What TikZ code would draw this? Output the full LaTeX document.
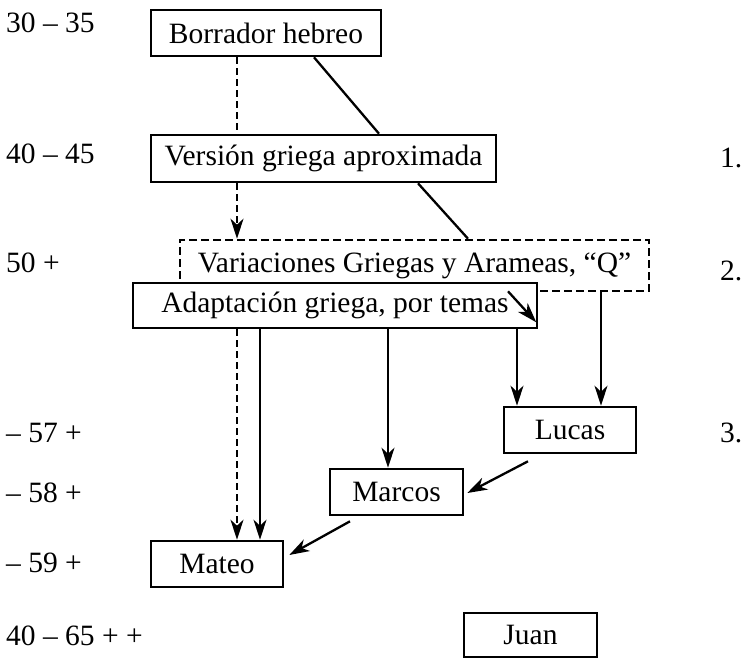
\documentclass[tikz,border=0pt]{standalone}
\usepackage{fontspec}
\setmainfont{Liberation Serif}
\usepackage{tikz}
\usetikzlibrary{positioning,arrows.meta}

\begin{document}
\begin{tikzpicture}[
  x=1pt,y=-1pt,
  every node/.style={font=\fontsize{29.5}{34}\selectfont},
  caja/.style={rectangle,draw=black,fill=white,line width=2.6pt,inner sep=0pt,align=center},
  cajapunt/.style={caja,dash pattern=on 8pt off 4pt},
  fecha/.style={anchor=base west,inner sep=0pt},
  linea/.style={line width=2.3pt,draw=black},
  lineapunt/.style={linea,dash pattern=on 7pt off 4pt},
  arr/.style={-{Stealth[length=20pt,width=13pt,inset=6pt]},linea},
  arrpunt/.style={-{Stealth[length=20pt,width=13pt,inset=6pt]},lineapunt},
]
\useasboundingbox (0,0) rectangle (742,659);

% Fechas a la izquierda
\node[fecha] (f1) at (6,32) {30 -- 35};
\node[fecha] (f2) at (6,163) {40 -- 45};
\node[fecha] (f3) at (6,272) {50 +};
\node[fecha] (f4) at (6,442) {-- 57 +};
\node[fecha] (f5) at (6,502) {-- 58 +};
\node[fecha] (f6) at (6,572) {-- 59 +};
\node[fecha] (f7) at (6,645) {40 -- 65 + +};

% Numeros a la derecha
\node[fecha] (n1) at (720,167) {1.};
\node[fecha] (n2) at (720,280) {2.};
\node[fecha] (n3) at (720,442) {3.};

% Fuentes
\node[caja,minimum width=230pt,minimum height=46pt] (bor) at (266,33) {Borrador hebreo};
\node[caja,minimum width=345pt,minimum height=47pt] (ver) at (323.5,158.5) {Versión griega aproximada};
\node[cajapunt,minimum width=469pt,minimum height=51pt] (var) at (414.5,265.5) {Variaciones Griegas y Arameas, ``Q''};
\node[caja,minimum width=404pt,minimum height=45pt] (ada) at (335,305.5) {Adaptación griega, por temas};

% Evangelios
\node[caja,minimum width=132pt,minimum height=46pt] (luc) at (570,430) {Lucas};
\node[caja,minimum width=133pt,minimum height=46pt] (mar) at (396.5,492) {Marcos};
\node[caja,minimum width=132pt,minimum height=46pt] (mat) at (217,564) {Mateo};
\node[caja,minimum width=133pt,minimum height=44pt] (jua) at (530.5,635) {Juan};

% Flechas
\draw[lineapunt] ([xshift=-29pt]bor.south) -- ([xshift=-86.5pt]ver.north);
\draw[linea] ([xshift=48pt]bor.south) -- ([xshift=55.5pt]ver.north);
\draw[arrpunt] ([xshift=-86.5pt]ver.south) -- ([xshift=-177.5pt]var.north);
\draw[linea] ([xshift=94.5pt]ver.south) -- ([xshift=53.5pt]var.north);
\draw[arr] ([xshift=93.5pt,yshift=1pt]var.south) -- ([xshift=-2pt,yshift=7pt]ada.south east);
\draw[arrpunt] ([xshift=-98pt]ada.south) -- ([xshift=20pt]mat.north);
\draw[arr] ([xshift=-75pt]ada.south) -- ([xshift=43pt]mat.north);
\draw[arr] ([xshift=53pt]ada.south) -- ([xshift=-8.5pt]mar.north);
\draw[arr] ([xshift=182pt]ada.south) -- ([xshift=-53pt]luc.north);
\draw[arr] ([xshift=186.5pt]var.south) -- ([xshift=31pt]luc.north);
\draw[arr] ([xshift=-42pt,yshift=-7pt]luc.south) -- ([xshift=3pt,yshift=-1pt]mar.east);
\draw[arr] ([xshift=-46.5pt,yshift=-5pt]mar.south) -- ([xshift=5pt,yshift=9pt]mat.east);

\end{tikzpicture}
\end{document}
